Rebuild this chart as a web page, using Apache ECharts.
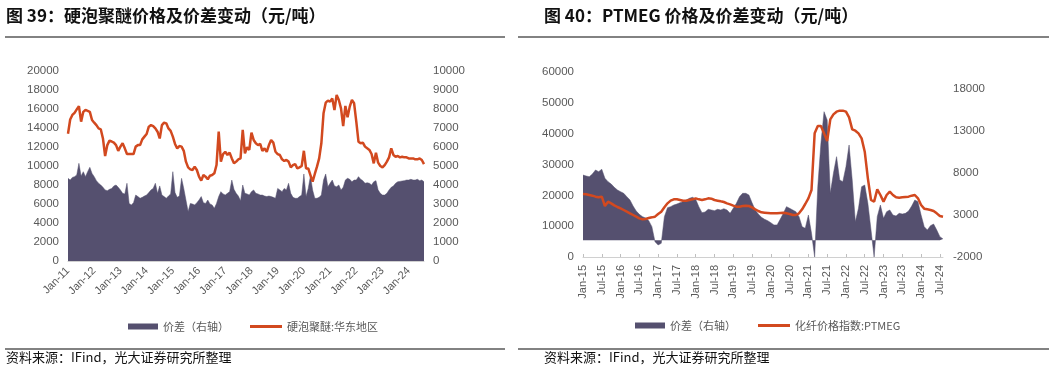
<!DOCTYPE html>
<html><head><meta charset="utf-8">
<script src="https://cdn.jsdelivr.net/npm/echarts@6/dist/echarts.min.js"></script>
<style>html,body{margin:0;padding:0;background:#fff}#c{width:1054px;height:370px}</style>
</head><body><div id="c"></div>
<script>
// ---------- data ----------
const MONTHS = ['Jan','Feb','Mar','Apr','May','Jun','Jul','Aug','Sep','Oct','Nov','Dec'];
function monthCats(y0, n) {
  const a = [];
  for (let i = 0; i < n; i++) {
    const y = y0 + Math.floor(i / 12);
    a.push(MONTHS[i % 12] + '-' + String(y % 100).padStart(2, '0'));
  }
  return a;
}
// Left chart: monthly, Jan-2011 .. Aug-2024
const catsL = monthCats(2011, 164);
// 硬泡聚醚:华东地区 (left axis)
const priceL = [
13400,14900,15370,15600,15960,16300,14670,15700,15900,15800,15700,14840,
14560,14300,13960,13860,12900,11050,12200,12670,12580,12460,12200,11600,
12040,12390,11860,11260,11260,11260,11260,12040,12200,12200,12800,13090,
13370,14140,14300,14200,13960,13610,12900,14300,14560,14490,13960,13700,
13090,12320,11860,12100,12040,11600,10460,9860,9650,9580,9930,9580,
8880,8460,9050,8880,8600,8980,9050,9230,10100,13610,10460,11260,
11500,11160,11400,10800,10280,10460,10700,10800,13800,11330,11970,11690,
13510,12740,12390,12200,12320,11600,11860,11500,12200,12740,12460,11500,
11260,11160,10700,10530,10630,10460,9860,10100,10210,9750,9860,10000,
11600,9750,9750,9050,8350,9160,9930,10800,12390,15540,16670,16880,
16770,17120,15900,17470,16950,16070,14210,16320,15120,16250,16950,16600,
14670,12560,12390,12460,12040,11860,11690,11260,10280,11400,10350,10000,
9860,10100,10460,10910,11860,11160,10980,11050,10910,10980,10910,10910,
10800,10800,10800,10700,10700,10800,10630,10200
];
// 价差 (right axis)
const spreadL = [
4350,4260,4400,4440,4530,5140,4470,4700,4440,4700,4930,4610,
4440,4230,4090,4000,3880,3740,3700,3770,3820,3950,4000,3880,
3740,3560,3530,4090,3030,2950,3070,3470,3390,3300,3350,3420,
3470,3600,3740,3820,4090,3560,3950,3470,3390,3300,3420,3530,
4700,3600,3350,3420,4350,3820,3210,2600,3030,3000,2950,3070,
3210,3390,3070,3030,3210,3000,2950,2770,3030,3390,3650,3530,
3470,3560,3650,4260,3770,3560,3420,3170,4000,3560,3530,3470,
3650,3740,3560,3530,3470,3470,3420,3390,3420,3390,3350,3300,
3820,3740,3650,3820,3740,4090,3560,3350,3300,3300,3390,3470,
4580,3390,3820,4470,3740,3300,3300,3350,3470,4260,4580,3910,
4090,4260,3950,3910,4000,3740,3880,4260,4350,4300,4170,4260,
4260,4440,4300,4230,4090,4120,4090,4000,4170,4230,3740,3560,
3470,3470,3560,3740,3880,3950,4090,4170,4190,4210,4230,4260,
4260,4300,4260,4260,4300,4230,4260,4170
];
// Right chart: monthly, Jan-2015 .. Aug-2024
const catsR = monthCats(2015, 116);
// 化纤价格指数:PTMEG (left axis)
const priceR = [
20430,20320,20110,19890,19570,19350,19570,16540,17950,17400,16760,16220,
15780,15240,14700,14160,13620,13080,12540,12220,12320,12650,12860,13080,
13940,14700,16110,17400,18270,18700,18700,18490,18270,18270,18490,18700,
19030,18700,18490,18700,19030,18920,18490,18270,18050,17840,17400,17080,
16650,16320,16320,16540,16650,16540,16110,15460,14920,14490,14380,14270,
14160,14160,14160,14270,14380,14160,13940,13620,13620,14160,15460,17190,
19030,21730,40100,42480,42480,40100,37620,44650,46270,47130,47460,47460,
47130,45290,41400,40970,40100,38480,34160,25510,18490,17950,21940,20110,
17950,20110,21190,20110,19350,19240,19350,19460,19570,19890,20110,19030,
16860,15670,15460,15240,14920,14160,13300,13080
];
// 价差 (right axis)
const spreadR = [
7750,7630,7550,7870,8350,8150,8430,7360,6960,6680,6280,5970,
5770,5570,5170,4780,4060,3470,3070,2800,2640,2320,1610,-180,
-570,-370,2800,3870,3990,4180,4300,4460,4580,4780,4980,5100,
4860,3990,3270,3350,3670,3590,3510,3670,3590,3750,3590,3190,
3790,4380,5170,5570,5570,5370,4460,3590,3110,2720,2480,2320,
2080,1810,1810,2480,3190,3990,3790,3590,3390,2800,1610,1410,
2990,810,-2000,6360,11520,15280,14290,5570,7950,9930,7160,6960,
8740,11320,7160,2200,3790,6360,6560,4380,1210,-2000,2800,4180,
2600,3390,3590,2990,2880,3190,3110,3190,3470,4060,4780,4580,
2990,1610,1210,1730,1920,1210,420,150
];
const ticksR2 = [-2000, 3000, 8000, 13000, 18000];

// ---------- styles ----------
const C_AREA = '#55506f';
const C_RED = '#d2491f';
const C_LABEL = '#595959';
const C_AXIS = '#d0d0d0';
const NUM_FONT = 'Liberation Sans, Arial, sans-serif';
const CJK_FONT = '"Noto Sans CJK SC", sans-serif';

const chart = echarts.init(document.getElementById('c'), null, {renderer: 'canvas'});
const plain = v => String(v);

function yAx(gridIndex, pos, min, max, interval, extra) {
  return Object.assign({
    type: 'value', gridIndex, position: pos, min, max, interval,
    splitLine: {show: false}, axisLine: {show: false}, axisTick: {show: false},
    axisLabel: {color: C_LABEL, fontSize: 11.5, fontFamily: NUM_FONT, margin: 9, formatter: plain}
  }, extra || {});
}
function xAx(gridIndex, cats, filt, rotate) {
  return {
    type: 'category', gridIndex, data: cats, boundaryGap: false,
    axisLine: {show: true, onZero: false, lineStyle: {color: C_AXIS, width: 1}},
    axisTick: {show: true, inside: true, length: 3, interval: filt, lineStyle: {color: '#bfbfbf'}},
    axisLabel: {interval: filt, rotate, color: C_LABEL, fontSize: 11, fontFamily: NUM_FONT, margin: 8},
    splitLine: {show: false}
  };
}
const isJan = (i, v) => v.startsWith('Jan');
const isJanJul = (i, v) => v.startsWith('Jan') || v.startsWith('Jul');

function legend(left, top, name, w, h) {
  return {
    left, top, itemWidth: w, itemHeight: h, itemGap: 20, icon: 'rect',
    selectedMode: false,
    formatter: n => n.replace(/#R$/, ''),
    textStyle: {color: C_LABEL, fontSize: 11, fontFamily: CJK_FONT},
    data: [name]
  };
}

const option = {
  animation: false,
  backgroundColor: '#fff',
  grid: [
    {left: 68, top: 71, width: 356, height: 190},
    {left: 583, top: 72, width: 360, height: 185}
  ],
  xAxis: [xAx(0, catsL, isJan, 45), xAx(1, catsR, isJanJul, 90)],
  yAxis: [
    yAx(0, 'left', 0, 20000, 2000),
    yAx(0, 'right', 0, 10000, 1000),
    yAx(1, 'left', 0, 60000, 10000),
    yAx(1, 'right', -2000, 20000, null, {
      axisLabel: {color: C_LABEL, fontSize: 11.5, fontFamily: NUM_FONT, margin: 10,
                  customValues: ticksR2, formatter: plain}
    })
  ],
  legend: [
    legend(123, 316, '价差（右轴）', 30, 6),
    legend(245, 316, '硬泡聚醚:华东地区', 32, 3),
    legend(630, 315, '价差（右轴）#R', 30, 6),
    legend(753, 315, '化纤价格指数:PTMEG', 32, 3)
  ],
  series: [
    {name: '价差（右轴）', type: 'line', xAxisIndex: 0, yAxisIndex: 1, data: spreadL,
     symbol: 'none', color: C_AREA, lineStyle: {width: 0.5, color: C_AREA},
     areaStyle: {color: C_AREA, opacity: 1}},
    {name: '硬泡聚醚:华东地区', type: 'line', xAxisIndex: 0, yAxisIndex: 0, data: priceL,
     symbol: 'none', color: C_RED, lineStyle: {width: 2.5, color: C_RED}},
    {name: '价差（右轴）#R', type: 'line', xAxisIndex: 1, yAxisIndex: 3, data: spreadR,
     symbol: 'none', color: C_AREA, lineStyle: {width: 0.5, color: C_AREA},
     areaStyle: {color: C_AREA, opacity: 1, origin: 0}},
    {name: '化纤价格指数:PTMEG', type: 'line', xAxisIndex: 1, yAxisIndex: 2, data: priceR,
     symbol: 'none', color: C_RED, lineStyle: {width: 2.5, color: C_RED}}
  ],
  graphic: [
    {type: 'text', left: 6, top: 7, style: {text: '图 39：硬泡聚醚价格及价差变动（元/吨）', fill: '#111',
      font: 'bold 17px "Noto Sans CJK SC", sans-serif'}},
    {type: 'text', left: 544, top: 7, style: {text: '图 40：PTMEG 价格及价差变动（元/吨）', fill: '#111',
      font: 'bold 17px "Noto Sans CJK SC", sans-serif'}},
    {type: 'line', shape: {x1: 5, y1: 37, x2: 505, y2: 37}, style: {stroke: '#595959', lineWidth: 1.5}},
    {type: 'line', shape: {x1: 518, y1: 37, x2: 1049, y2: 37}, style: {stroke: '#595959', lineWidth: 1.5}},
    {type: 'line', shape: {x1: 5, y1: 349, x2: 505, y2: 349}, style: {stroke: '#595959', lineWidth: 1.5}},
    {type: 'line', shape: {x1: 518, y1: 349, x2: 1049, y2: 349}, style: {stroke: '#595959', lineWidth: 1.5}},
    {type: 'text', left: 6, top: 351, style: {text: '资料来源：IFind，光大证券研究所整理', fill: '#111',
      font: '13px "Noto Sans CJK SC", sans-serif'}},
    {type: 'text', left: 544, top: 351, style: {text: '资料来源：IFind，光大证券研究所整理', fill: '#111',
      font: '13px "Noto Sans CJK SC", sans-serif'}}
  ]
};
chart.setOption(option);
</script>
</body></html>
